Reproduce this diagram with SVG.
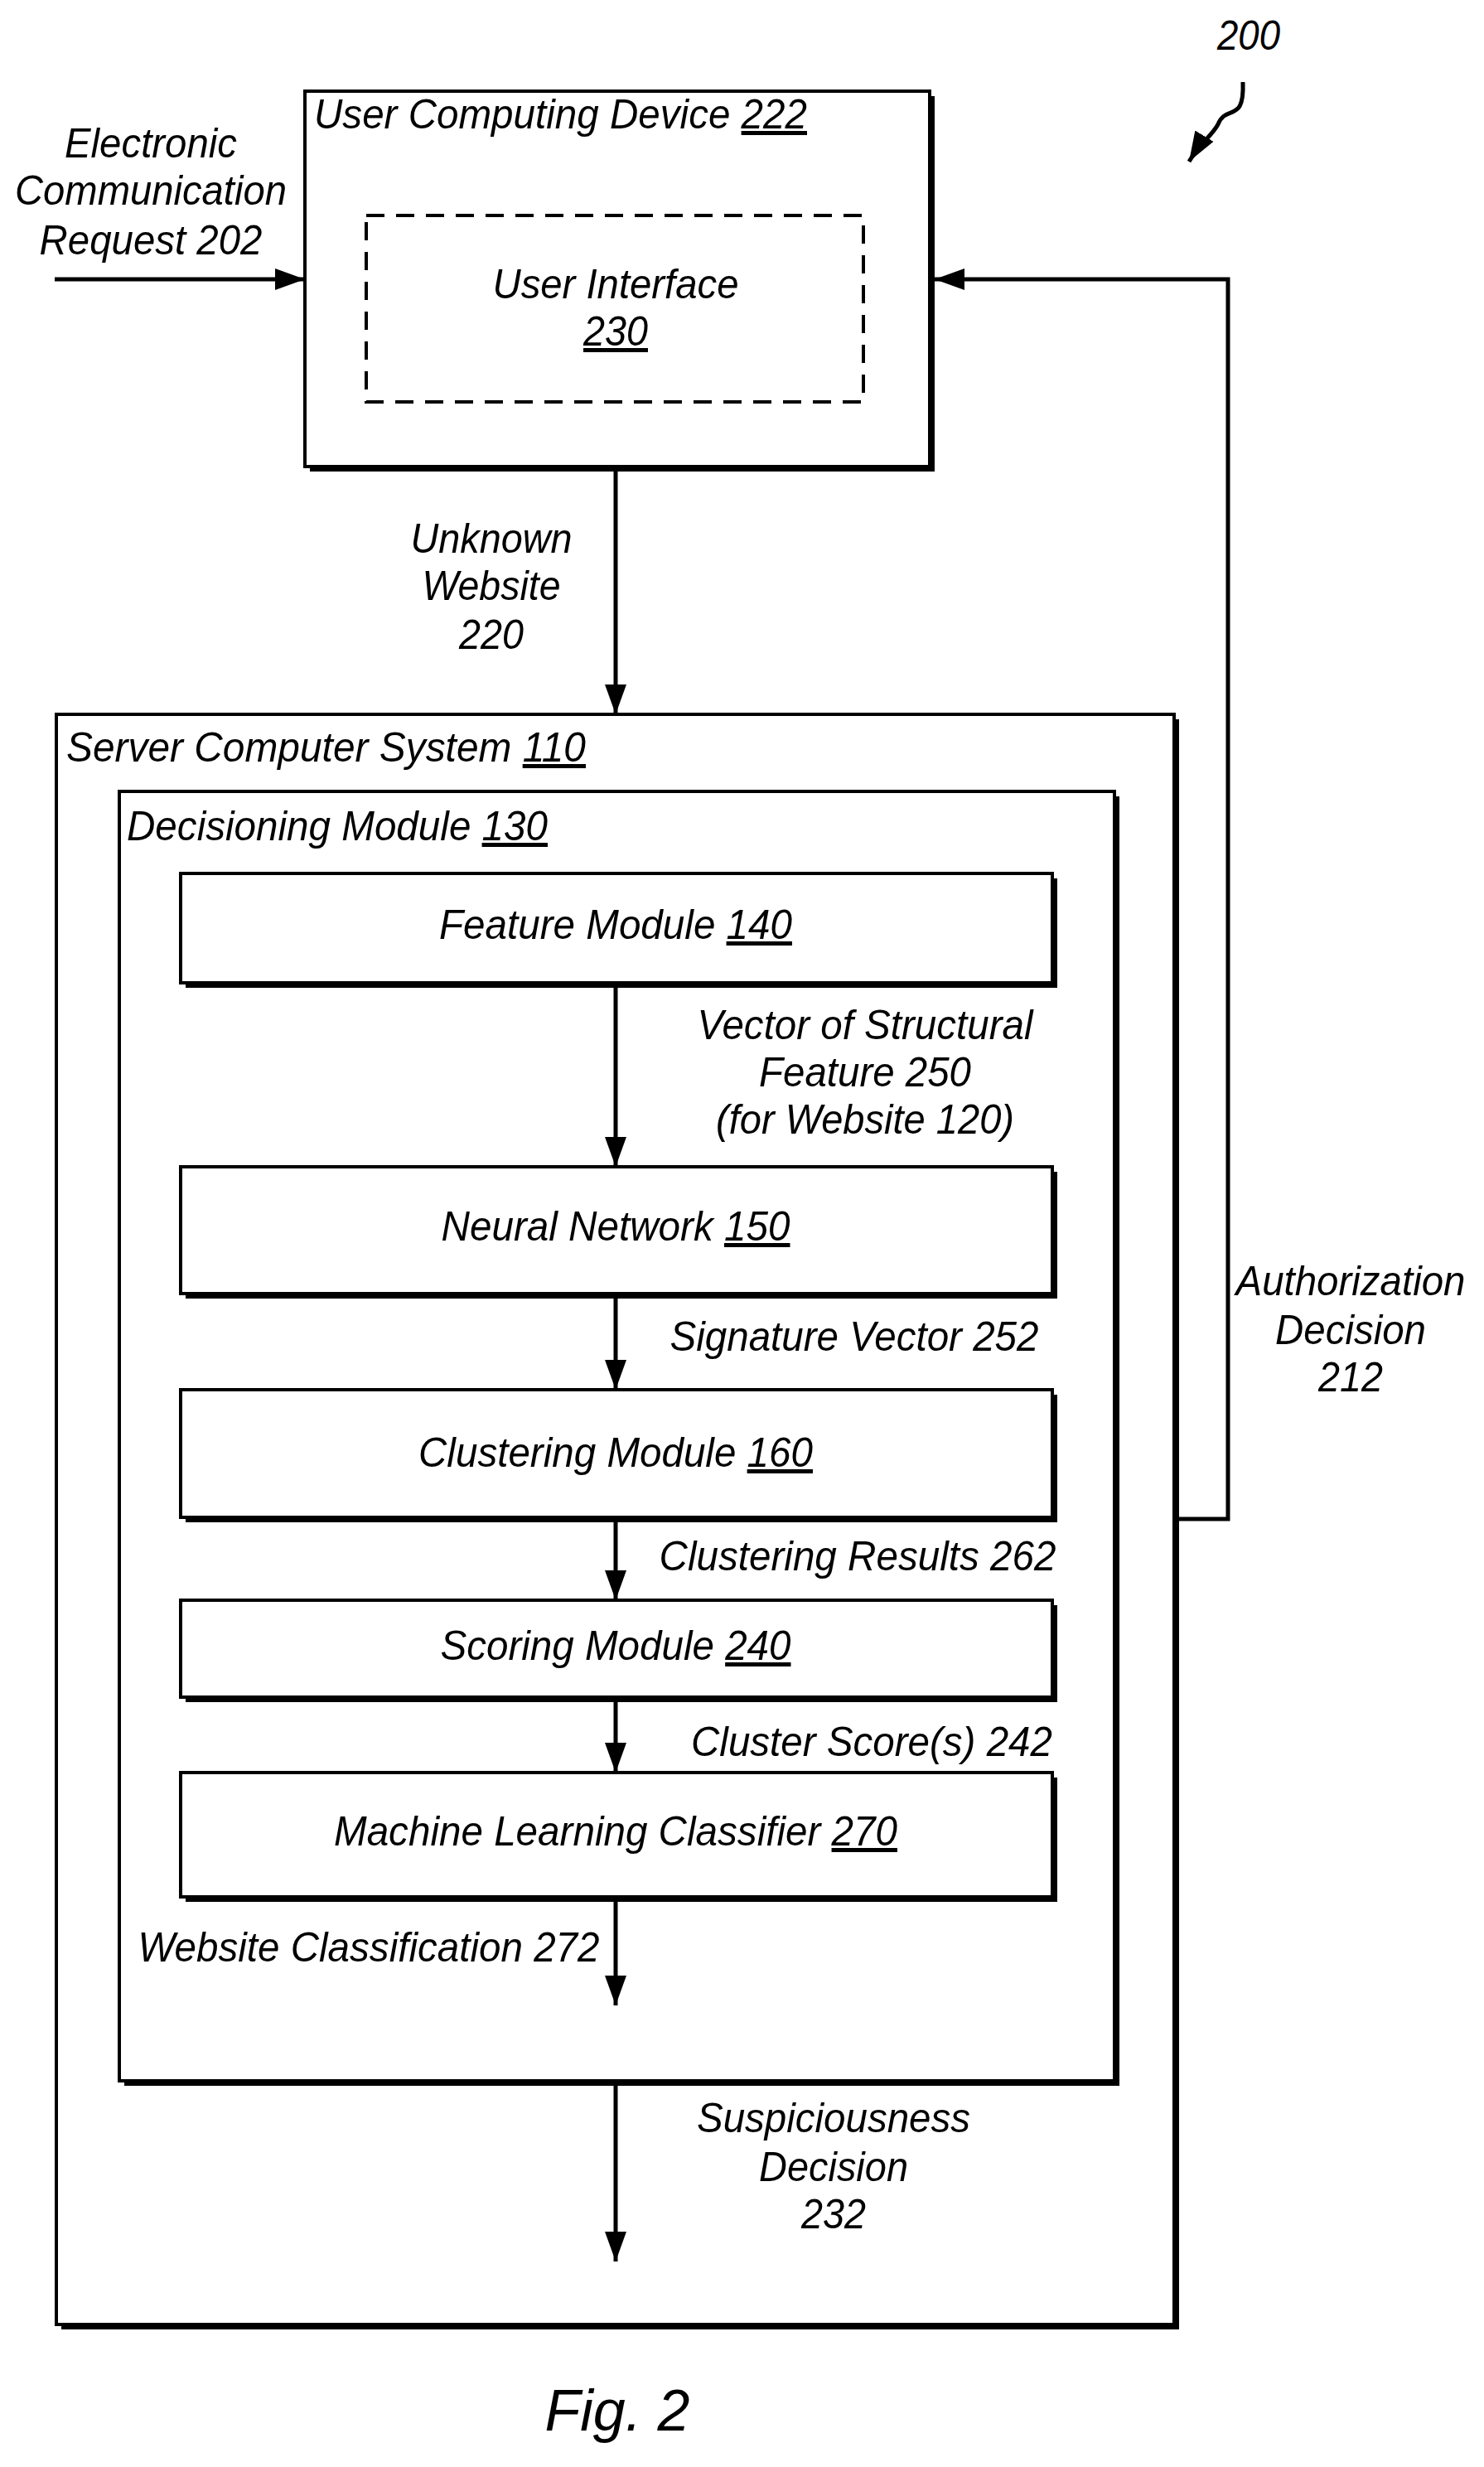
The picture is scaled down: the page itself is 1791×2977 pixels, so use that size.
<svg xmlns="http://www.w3.org/2000/svg" width="1791" height="2977" viewBox="0 0 1791 2977">
<defs>
<style>
text{font-family:"Liberation Sans",Arial,sans-serif;font-style:italic;font-size:50px;fill:#000}
.m{text-anchor:middle}
.u{text-decoration:underline}
.box{fill:#fff;stroke:#000;stroke-width:4}
.sh{fill:#000}
.ln{fill:none;stroke:#000;stroke-width:5}
</style>
<marker id="ab" markerWidth="36" markerHeight="26" refX="36" refY="13" orient="auto" markerUnits="userSpaceOnUse"><path d="M0,0 L36,13 L0,26 Z" fill="#000"/></marker>
</defs>
<text class="m" x="1507" y="60" textLength="76" lengthAdjust="spacingAndGlyphs">200</text>
<text class="m" x="182" y="190" textLength="208" lengthAdjust="spacingAndGlyphs">Electronic</text>
<text class="m" x="182" y="247" textLength="328" lengthAdjust="spacingAndGlyphs">Communication</text>
<text class="m" x="182" y="307" textLength="269" lengthAdjust="spacingAndGlyphs">Request 202</text>
<text class="m" x="593" y="667" textLength="195" lengthAdjust="spacingAndGlyphs">Unknown</text>
<text class="m" x="593" y="724" textLength="167" lengthAdjust="spacingAndGlyphs">Website</text>
<text class="m" x="593" y="783" textLength="78" lengthAdjust="spacingAndGlyphs">220</text>
<text class="m" x="1630" y="1563" textLength="277" lengthAdjust="spacingAndGlyphs">Authorization</text>
<text class="m" x="1630" y="1622" textLength="182" lengthAdjust="spacingAndGlyphs">Decision</text>
<text class="m" x="1630" y="1679" textLength="78" lengthAdjust="spacingAndGlyphs">212</text>
<g id="ucd">
<rect class="sh" x="374" y="116" width="754" height="453"/>
<rect class="box" x="368" y="110" width="754" height="453"/>
<text x="379" y="155" textLength="595" lengthAdjust="spacingAndGlyphs">User Computing Device <tspan class="u">222</tspan></text>
</g>
<g id="ui">
<rect x="442" y="260" width="600" height="225" fill="none" stroke="#000" stroke-width="4" stroke-dasharray="22,14"/>
<text class="m" x="743" y="360" textLength="297" lengthAdjust="spacingAndGlyphs">User Interface</text>
<text class="m u" x="743" y="417" textLength="78" lengthAdjust="spacingAndGlyphs">230</text>
</g>
<g id="server">
<rect class="sh" x="74" y="868" width="1349" height="1943"/>
<rect class="box" x="68" y="862" width="1349" height="1943"/>
<text x="80" y="919" textLength="627" lengthAdjust="spacingAndGlyphs">Server Computer System <tspan class="u">110</tspan></text>
</g>
<g id="decisioning">
<rect class="sh" x="150" y="961" width="1201" height="1556"/>
<rect class="box" x="144" y="955" width="1201" height="1556"/>
<text x="153" y="1014" textLength="508" lengthAdjust="spacingAndGlyphs">Decisioning Module <tspan class="u">130</tspan></text>
</g>
<g id="feature">
<rect class="sh" x="224" y="1060" width="1052" height="132"/>
<rect class="box" x="218" y="1054" width="1052" height="132"/>
<text class="m" x="743" y="1133" textLength="426" lengthAdjust="spacingAndGlyphs">Feature Module <tspan class="u">140</tspan></text>
</g>
<g id="neural">
<rect class="sh" x="224" y="1414" width="1052" height="153"/>
<rect class="box" x="218" y="1408" width="1052" height="153"/>
<text class="m" x="743" y="1497" textLength="421" lengthAdjust="spacingAndGlyphs">Neural Network <tspan class="u">150</tspan></text>
</g>
<g id="clustering">
<rect class="sh" x="224" y="1683" width="1052" height="154"/>
<rect class="box" x="218" y="1677" width="1052" height="154"/>
<text class="m" x="743" y="1770" textLength="476" lengthAdjust="spacingAndGlyphs">Clustering Module <tspan class="u">160</tspan></text>
</g>
<g id="scoring">
<rect class="sh" x="224" y="1937" width="1052" height="117"/>
<rect class="box" x="218" y="1931" width="1052" height="117"/>
<text class="m" x="743" y="2003" textLength="423" lengthAdjust="spacingAndGlyphs">Scoring Module <tspan class="u">240</tspan></text>
</g>
<g id="mlc">
<rect class="sh" x="224" y="2145" width="1052" height="150"/>
<rect class="box" x="218" y="2139" width="1052" height="150"/>
<text class="m" x="743" y="2227" textLength="680" lengthAdjust="spacingAndGlyphs">Machine Learning Classifier <tspan class="u">270</tspan></text>
</g>
<g id="connectors">
<path class="ln" d="M1500,99 C1502,150 1480,125 1470,150 C1462,165 1450,170 1435,195" marker-end="url(#ab)"/>
<line class="ln" x1="66" y1="337" x2="368" y2="337" marker-end="url(#ab)"/>
<polyline class="ln" points="1423,1833 1482,1833 1482,337 1128,337" marker-end="url(#ab)"/>
<line class="ln" x1="743" y1="569" x2="743" y2="862" marker-end="url(#ab)"/>
<line class="ln" x1="743" y1="1192" x2="743" y2="1408" marker-end="url(#ab)"/>
<line class="ln" x1="743" y1="1567" x2="743" y2="1677" marker-end="url(#ab)"/>
<line class="ln" x1="743" y1="1837" x2="743" y2="1931" marker-end="url(#ab)"/>
<line class="ln" x1="743" y1="2054" x2="743" y2="2139" marker-end="url(#ab)"/>
<line class="ln" x1="743" y1="2295" x2="743" y2="2420" marker-end="url(#ab)"/>
<line class="ln" x1="743" y1="2517" x2="743" y2="2729" marker-end="url(#ab)"/>
</g>
<g id="labels">
<text class="m" x="1044" y="1254" textLength="405" lengthAdjust="spacingAndGlyphs">Vector of Structural</text>
<text class="m" x="1044" y="1311" textLength="256" lengthAdjust="spacingAndGlyphs">Feature 250</text>
<text class="m" x="1044" y="1368" textLength="360" lengthAdjust="spacingAndGlyphs">(for Website 120)</text>
<text class="m" x="1031" y="1630" textLength="445" lengthAdjust="spacingAndGlyphs">Signature Vector 252</text>
<text class="m" x="1035" y="1895" textLength="479" lengthAdjust="spacingAndGlyphs">Clustering Results 262</text>
<text class="m" x="1052" y="2119" textLength="436" lengthAdjust="spacingAndGlyphs">Cluster Score(s) 242</text>
<text class="m" x="445" y="2367" textLength="557" lengthAdjust="spacingAndGlyphs">Website Classification 272</text>
<text class="m" x="1006" y="2573" textLength="330" lengthAdjust="spacingAndGlyphs">Suspiciousness</text>
<text class="m" x="1006" y="2632" textLength="180" lengthAdjust="spacingAndGlyphs">Decision</text>
<text class="m" x="1006" y="2689" textLength="78" lengthAdjust="spacingAndGlyphs">232</text>
</g>
<text class="m" x="745" y="2933" style="font-size:70px">Fig. 2</text>
</svg>
